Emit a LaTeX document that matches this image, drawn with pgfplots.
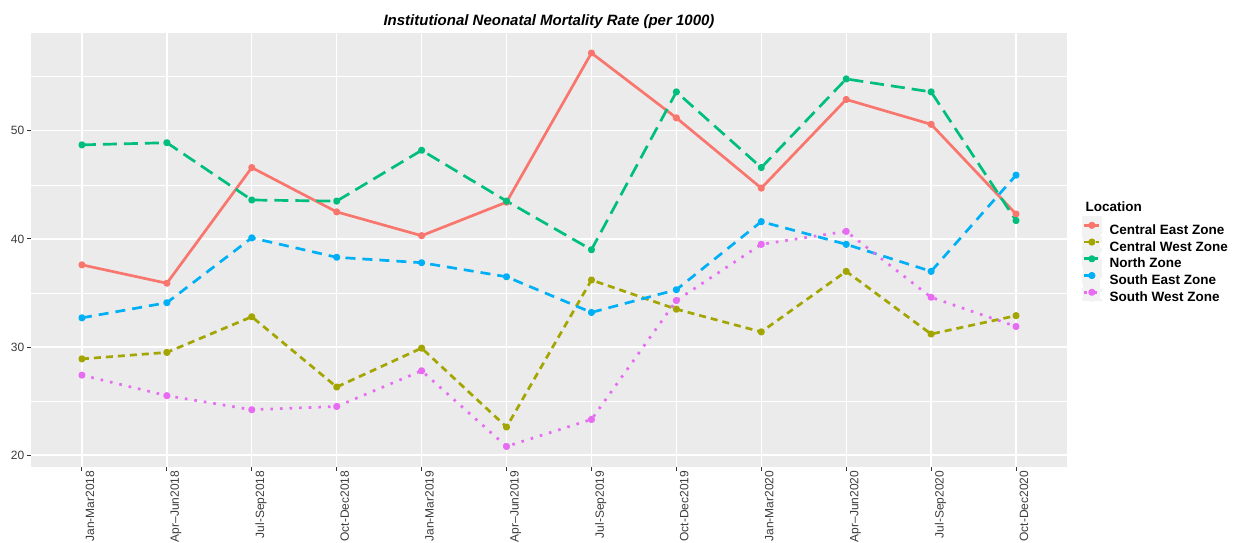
\documentclass[border=0pt]{standalone}
\usepackage{pgfplots}
\pgfplotsset{compat=1.18}
\usepackage{pgfplotstable}
\usepackage{fontspec}
\setmainfont{Liberation Sans}
\definecolor{ce}{HTML}{F8766D}
\definecolor{cw}{HTML}{A3A500}
\definecolor{nz}{HTML}{00BF7D}
\definecolor{se}{HTML}{00B0F6}
\definecolor{sw}{HTML}{E76BF3}
\definecolor{panel}{HTML}{EBEBEB}
\definecolor{keybg}{HTML}{F2F2F2}
\definecolor{tickc}{HTML}{333333}
\definecolor{labc}{HTML}{3C3C3C}
\pgfplotstableread{
x ce cw nz se sw
0 37.6 28.9 48.7 32.7 27.4
1 35.9 29.5 48.9 34.1 25.5
2 46.6 32.8 43.6 40.1 24.2
3 42.5 26.3 43.5 38.3 24.5
4 40.3 29.9 48.2 37.8 27.8
5 43.4 22.6 43.5 36.5 20.8
6 57.2 36.2 39.0 33.2 23.3
7 51.2 33.5 53.6 35.3 34.3
8 44.7 31.4 46.6 41.6 39.5
9 52.9 37.0 54.8 39.5 40.7
10 50.6 31.2 53.6 37.0 34.6
11 42.3 32.9 41.7 45.9 31.9
}\datatable
\begin{document}
\begin{tikzpicture}
\useasboundingbox (-31pt,-75pt) rectangle (1203pt,467pt);
\begin{axis}[
  at={(0,0)}, anchor=south west,
  scale only axis, width=1036pt, height=434pt,
  xmin=-0.6, xmax=11.6, ymin=18.9, ymax=59.05,
  xtick={0,...,11},
  xticklabels={Jan-Mar2018, Apr--Jun2018, Jul-Sep2018, Oct-Dec2018, Jan-Mar2019, Apr--Jun2019, Jul-Sep2019, Oct-Dec2019, Jan-Mar2020, Apr--Jun2020, Jul-Sep2020, Oct-Dec2020},
  ytick={20,30,40,50}, minor ytick={25,35,45,55},
  grid=both,
  major grid style={white, line width=1.3pt},
  minor grid style={white, line width=0.6pt},
  axis background/.style={fill=panel},
  axis line style={draw=none},
  tick align=outside, xtick pos=bottom, ytick pos=left,
  major tick length=3.5pt, minor tick length=0pt,
  major tick style={draw=tickc, line width=1pt},
  ticklabel style={font=\fontsize{12}{14}\selectfont, text=labc},
  yticklabel style={anchor=east, inner sep=0pt, xshift=-3pt},
  xticklabel style={rotate=90, anchor=north east, inner sep=0pt, yshift=-3.5pt},
  /pgf/number format/assume math mode=true,
  clip=false,
  legend cell align=left,
  legend image code/.code={
    \fill[keybg] (0pt,-3.25pt) rectangle (17pt,13.25pt);
    \draw[mark repeat=2,mark phase=2,#1] plot coordinates {(1pt,5pt)(8.5pt,5pt)(16pt,5pt)};
  },
  legend style={at={(axis description cs:1.0145,0.579)}, anchor=north west,
    draw=none, fill=none, inner sep=0pt, outer sep=0pt, row sep=-3.5pt, column sep=8pt,
    font=\bfseries\fontsize{13.5}{16}\selectfont, nodes={inner sep=0pt}},
  every axis plot/.append style={line width=2.7pt, mark=*, mark size=2.2pt, line join=round, mark options={solid}},
]
\addplot[ce] table[x=x,y=ce]{\datatable};
\addlegendentry{Central East Zone}
\addplot[cw, dash pattern=on 7pt off 5pt] table[x=x,y=cw]{\datatable};
\addlegendentry{Central West Zone}
\addplot[nz, dash pattern=on 14pt off 7pt] table[x=x,y=nz]{\datatable};
\addlegendentry{North Zone}
\addplot[se, dash pattern=on 10pt off 7pt] table[x=x,y=se]{\datatable};
\addlegendentry{South East Zone}
\addplot[sw, dash pattern=on 2.6pt off 7pt] table[x=x,y=sw]{\datatable};
\addlegendentry{South West Zone}
\node[anchor=base west, font=\bfseries\fontsize{13.5}{16}\selectfont] at (axis description cs:1.0145,0.588) {Location};
\node[anchor=base, font=\bfseries\itshape\fontsize{15}{18}\selectfont] at (axis description cs:0.5,1.0173) {Institutional Neonatal Mortality Rate (per 1000)};
\end{axis}
\end{tikzpicture}
\end{document}
